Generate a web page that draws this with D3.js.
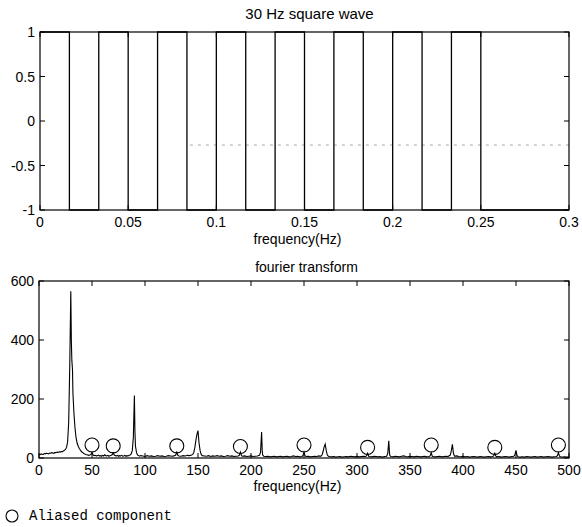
<!DOCTYPE html>
<html>
<head>
<meta charset="utf-8">
<script src="https://cdnjs.cloudflare.com/ajax/libs/d3/7.8.5/d3.min.js"></script>
<style>
  html, body { margin: 0; padding: 0; background: #fff; }
  svg { display: block; }
  text { font-family: "Liberation Sans", Arial, sans-serif; fill: #000; }
</style>
</head>
<body>
<svg id="chart" width="582" height="527"></svg>
<script>
// ---------- data ----------
const squareTitle = "30 Hz square wave";
const spectrumTitle = "fourier transform";
const xAxisLabel = "frequency(Hz)";
const legendLabel = "Aliased component";

const squareTicksX = [0, 0.05, 0.1, 0.15, 0.2, 0.25, 0.3];
const squareTicksY = [-1, -0.5, 0, 0.5, 1];
const spectrumTicksX = [0, 50, 100, 150, 200, 250, 300, 350, 400, 450, 500];
const spectrumTicksY = [0, 200, 400, 600];

// square wave: switching instants (s) and the level held after each
const squareTimes = [0, 0.01667, 0.03333, 0.05, 0.06667, 0.08333, 0.1, 0.11667,
  0.13333, 0.15, 0.16667, 0.18333, 0.2, 0.21667, 0.23333, 0.25, 0.3];
const squareLevels = [1, -1, 1, -1, 1, -1, 1, -1, 1, -1, 1, -1, 1, -1, 1, -1, -1];

// faint dotted trace seen in the upper panel
const dottedTimes = [0.085, 0.3];
const dottedLevels = [-0.27, -0.27];

// magnitude spectrum
const spectrumHz = [0,1,2,3,4,5,6,7,8,9,10,11,12,13,14,15,16,17,18,19,20,21,22,23,24,25,26,27,28,29,30,30.5,31,31.6,32,33,34,35,36,37,38,39,40,41,42,43,44,45,46,47,48,49,50,51,52,53,54,55,56,57,58,59,60,61,62,63,64,65,66,67,68,69,70,71,72,73,74,75,76,77,78,79,80,81,82,83,84,85,86,87,88,89,90,90.5,91,92,93,94,95,96,98,100,102,104,106,108,110,112,114,116,118,120,122,124,126,128,129,130,131,132,134,136,138,140,142,144,145,146,147,148,149,150,151,152,153,154,156,158,160,162,164,166,168,170,172,174,176,178,180,182,184,186,188,189,190,191,192,194,196,198,200,202,204,206,208,209,210,210.6,211,212,214,216,218,220,222,224,226,228,230,232,234,236,238,240,242,244,246,248,249,250,251,252,254,256,258,260,262,264,266,267,268,269,270,271,272,273,274,276,278,280,282,284,286,288,290,292,294,296,298,300,302,304,306,308,309,310,311,312,314,316,318,320,322,324,326,328,329,330,330.6,331,332,334,336,338,340,342,344,346,348,350,352,354,356,358,360,362,364,366,368,369,370,371,372,374,376,378,380,382,384,386,388,389,390,391,392,394,396,398,400,402,404,406,408,410,412,414,416,418,420,422,424,426,428,429,430,431,432,434,436,438,440,442,444,446,448,449,450,451,452,454,456,458,460,462,464,466,468,470,472,474,476,478,480,482,484,486,488,489,490,491,492,494,496,498,500];
const spectrumMag = [12,11,14,13,12,15,14,16,15,14,17,16,18,17,16,19,18,20,19,21,20,22,21,24,26,29,36,55,120,310,565,400,330,300,220,150,100,68,50,40,32,27,22,19,16,14,12,11,10,9,10,12,20,10,8,9,7,8,10,7,8,6,9,7,11,8,7,9,6,8,9,11,18,10,8,7,9,6,8,7,9,6,7,9,6,8,7,9,10,14,25,70,212,90,40,18,10,8,6,8,7,5,8,6,7,5,6,8,6,7,5,6,8,7,6,8,10,20,9,7,6,8,7,9,8,10,12,18,35,60,80,93,50,25,12,8,7,6,8,5,7,6,8,6,7,5,6,8,6,7,5,6,7,9,20,8,6,7,5,6,7,5,6,7,9,20,88,25,10,6,5,6,4,5,6,4,5,6,4,5,6,4,5,7,5,6,4,5,8,21,7,5,6,4,5,6,5,7,6,10,22,38,47,25,10,6,5,4,5,3,4,5,3,4,5,4,6,5,4,6,4,5,6,5,7,16,6,5,4,6,5,4,5,3,5,6,15,58,20,8,5,4,6,5,4,6,7,5,4,6,5,4,6,5,4,5,6,4,5,7,18,6,5,4,5,6,4,5,6,5,10,25,46,15,6,7,5,4,6,4,5,3,4,5,4,3,5,4,3,4,5,4,5,7,16,6,4,5,3,4,5,4,3,5,6,12,26,8,4,3,4,3,5,4,3,4,5,3,4,5,3,4,5,4,3,4,5,7,18,6,4,3,4,3,4];

// aliased components: frequency and level of the circle marker
const aliasHz = [50, 70, 130, 190, 250, 310, 370, 430, 490];
const aliasLevel = [44, 41, 41, 39, 44, 36, 44, 36, 44];

// ---------- layout ----------
const svg = d3.select("#chart");
const left = 40, right = 569;
const top1 = 32, bot1 = 210;
const top2 = 281, bot2 = 458;
const tickLen = 5;
const fontSize = 14;

function frame(g, x, y, ticksX, ticksY, fmtX, fmtY, x0, x1, y0, y1) {
  // tick labels
  g.selectAll(".xl").data(ticksX).join("text")
    .attr("x", d => x(d)).attr("y", y0 + 17)
    .attr("text-anchor", "middle").attr("font-size", fontSize)
    .text(fmtX);
  g.selectAll(".yl").data(ticksY).join("text")
    .attr("x", x0 - 5).attr("y", d => y(d) + 5)
    .attr("text-anchor", "end").attr("font-size", fontSize)
    .text(fmtY);
  const tg = g.append("g").attr("stroke", "#000").attr("stroke-width", 1);
  ticksX.forEach(d => {
    tg.append("line").attr("x1", x(d)).attr("x2", x(d)).attr("y1", y0).attr("y2", y0 - tickLen);
    tg.append("line").attr("x1", x(d)).attr("x2", x(d)).attr("y1", y1).attr("y2", y1 + tickLen);
  });
  ticksY.forEach(d => {
    tg.append("line").attr("x1", x0).attr("x2", x0 + tickLen).attr("y1", y(d)).attr("y2", y(d));
    tg.append("line").attr("x1", x1).attr("x2", x1 - tickLen).attr("y1", y(d)).attr("y2", y(d));
  });
  g.append("rect").attr("x", x0).attr("y", y1).attr("width", x1 - x0).attr("height", y0 - y1)
    .attr("fill", "none").attr("stroke", "#000").attr("stroke-width", 1.2);
}

// ---------- top panel: square wave ----------
const xs = d3.scaleLinear().domain([0, 0.3]).range([left, right]);
const ys = d3.scaleLinear().domain([-1, 1]).range([bot1, top1]);
const g1 = svg.append("g");

g1.append("path")
  .datum(dottedTimes.map((t, i) => [t, dottedLevels[i]]))
  .attr("fill", "none").attr("stroke", "#aaa").attr("stroke-width", 1)
  .attr("stroke-dasharray", "3,5")
  .attr("d", d3.line().x(d => xs(d[0])).y(d => ys(d[1])));

g1.append("path")
  .datum(squareTimes.map((t, i) => [t, squareLevels[i]]))
  .attr("fill", "none").attr("stroke", "#000").attr("stroke-width", 1.3)
  .attr("d", d3.line().curve(d3.curveStepAfter).x(d => xs(d[0])).y(d => ys(d[1])));

frame(g1, xs, ys, squareTicksX, squareTicksY, d => String(d), d => String(d),
  left, right, bot1, top1);

g1.append("text").attr("x", (left + right) / 2 + 5).attr("y", 19)
  .attr("text-anchor", "middle").attr("font-size", 15).text(squareTitle);
g1.append("text").attr("x", (left + right) / 2 - 7).attr("y", bot1 + 34)
  .attr("text-anchor", "middle").attr("font-size", fontSize).text(xAxisLabel);

// ---------- bottom panel: spectrum ----------
const xf = d3.scaleLinear().domain([0, 500]).range([left - 1, right]);
const yf = d3.scaleLinear().domain([0, 600]).range([bot2, top2]);
const g2 = svg.append("g");

g2.append("path")
  .datum(spectrumHz.map((f, i) => [f, spectrumMag[i]]))
  .attr("fill", "none").attr("stroke", "#000").attr("stroke-width", 1.1)
  .attr("d", d3.line().x(d => xf(d[0])).y(d => yf(d[1])));

g2.selectAll("circle.alias").data(aliasHz).join("circle")
  .attr("class", "alias")
  .attr("cx", d => xf(d)).attr("cy", (d, i) => yf(aliasLevel[i]))
  .attr("r", 7).attr("fill", "none").attr("stroke", "#000").attr("stroke-width", 1.1);

frame(g2, xf, yf, spectrumTicksX, spectrumTicksY, d => String(d), d => String(d),
  left - 1, right, bot2, top2);

g2.append("text").attr("x", (left + right) / 2 + 2).attr("y", 272)
  .attr("text-anchor", "middle").attr("font-size", fontSize).text(spectrumTitle);
g2.append("text").attr("x", (left + right) / 2 - 7).attr("y", bot2 + 33)
  .attr("text-anchor", "middle").attr("font-size", fontSize).text(xAxisLabel);

// ---------- legend ----------
const lg = svg.append("g");
lg.append("circle").attr("cx", 12).attr("cy", 516).attr("r", 6)
  .attr("fill", "none").attr("stroke", "#000").attr("stroke-width", 1.1);
lg.append("text").attr("x", 29).attr("y", 520)
  .style("font-family", "'Liberation Mono', 'Courier New', monospace")
  .attr("font-size", 14).text(legendLabel);
</script>
</body>
</html>
